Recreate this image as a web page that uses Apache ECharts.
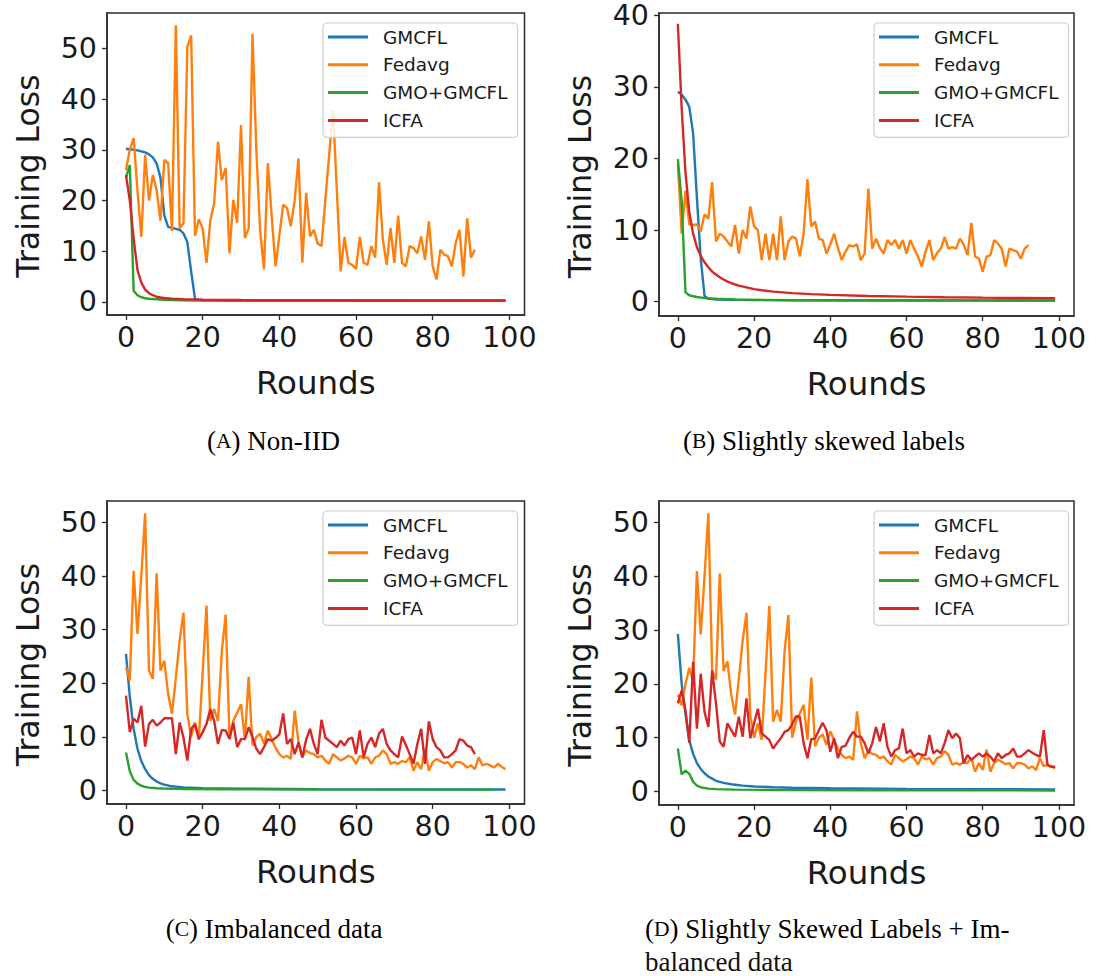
<!DOCTYPE html>
<html><head><meta charset="utf-8">
<script src="https://cdn.jsdelivr.net/npm/echarts@6/dist/echarts.min.js"></script>
<style>html,body{margin:0;padding:0;background:#fff}#c{width:1098px;height:976px}</style>
</head><body><div id="c"></div>
<script>
// ---------- labels ----------
const seriesNames = ['GMCFL', 'Fedavg', 'GMO+GMCFL', 'ICFA'];
const seriesColors = ['#1f77b4', '#ff7f0e', '#2ca02c', '#d62728'];
const xTickValues = [0, 20, 40, 60, 80, 100];
const yTicksA = [0, 10, 20, 30, 40, 50];
const yTicksB = [0, 10, 20, 30, 40];
const yTicksC = [0, 10, 20, 30, 40, 50];
const yTicksD = [0, 10, 20, 30, 40, 50];
const xTitle = 'Rounds';
const yTitle = 'Training Loss';
const captionA = ['A', 'Non-IID'];
const captionB = ['B', 'Slightly skewed labels'];
const captionC = ['C', 'Imbalanced data'];
const captionD = ['D', 'Slightly Skewed Labels + Im-', 'balanced data'];

// ---------- (A) Non-IID ----------
const A_GMCFL_x = [0,1,2,3,4,5,6,7,8,9,10,11,12,13,14,15,16,17,18,19,20,30,50,70,99];
const A_GMCFL_y = [30.2,30.1,30.0,29.9,29.7,29.5,29.1,28.5,27.3,24.5,17,14.8,14.6,14.4,14.2,13.5,11.8,6.0,0.6,0.4,0.35,0.3,0.28,0.27,0.25];
const A_Fedavg = [26,30,32.3,22,12.8,29,20,25,22,16,
  28,27.4,14,54.6,14.5,15.5,50.3,52.6,13,16.3,
  14.5,7.7,16,19.5,31.6,24,26.4,9.6,20.1,15.6,
  34.9,12.6,14.5,52.9,30,14,6.4,27.4,17,7,
  13,19.2,18.5,14.9,20,28.3,7.7,21.5,12.9,14.2,
  11.5,11,20.1,29,37.9,22,6,12.8,7.7,7.3,
  6.5,12.8,7.7,7.3,11,8.7,23.6,12.3,7.3,14.6,
  7.7,17,7.7,7,11,10.6,9.6,12.9,8.3,15.9,
  7,4.4,10.3,9.3,9,7,11.6,14.2,5,16.5,
  8.7,10.3];
const A_GMO_x = [0,1,2,3,4,5,6,8,10,15,20,40,70,99];
const A_GMO_y = [24.5,27,2.2,1.3,0.9,0.7,0.6,0.5,0.4,0.3,0.25,0.2,0.2,0.2];
const A_ICFA_x = [0,1,2,3,4,5,6,7,8,9,10,12,15,20,30,50,75,99];
const A_ICFA_y = [25,20,12.5,6.3,3.8,2.4,1.7,1.3,1.0,0.85,0.75,0.6,0.5,0.4,0.35,0.3,0.27,0.25];

// ---------- (B) Slightly skewed labels ----------
const B_GMCFL_x = [0,1,2,3,4,5,6,7,8,9,10,15,20,40,70,99];
const B_GMCFL_y = [29.3,28.9,28.2,27.2,23.5,14.5,6,0.8,0.4,0.35,0.3,0.25,0.22,0.2,0.18,0.15];
const B_Fedavg = [19.3,9.5,15.5,10.8,10.7,10.8,9.8,12.2,11.6,16.7,
  8.4,9.5,9.1,8.4,7.7,10.7,6.7,10.0,8.8,13.3,
  10.5,10.0,5.8,9.5,5.8,9.5,5.8,11.9,5.8,8.4,
  9.1,8.8,6.3,9.5,17.1,10.5,11.2,8.8,8.6,6.7,
  8.0,9.5,7.5,5.8,7.0,7.9,7.7,8.0,5.8,6.7,
  15.8,7.4,8.8,7.5,6.7,8.6,7.9,8.6,7.4,8.6,
  6.7,8.6,7.4,6.3,4.9,7.0,8.6,5.8,6.8,7.4,
  9.0,7.4,7.6,7.4,8.8,8.0,6.5,11.0,6.3,6.0,
  4.2,6.3,6.5,8.6,8.1,7.4,4.9,7.4,7.2,7.0,
  6.0,7.4,7.9];
const B_GMO_x = [0,1,2,3,4,5,7,10,15,30,60,99];
const B_GMO_y = [19.9,14,1.3,0.9,0.75,0.65,0.5,0.4,0.3,0.2,0.17,0.15];
const B_ICFA_x = [0,1,2,3,4,5,6,7,8,9,10,11,12,13,14,15,16,18,20,22,25,30,35,40,50,60,70,80,90,99];
const B_ICFA_y = [38.8,27,18,12.5,9.5,7.6,6.4,5.5,4.8,4.2,3.8,3.4,3.1,2.8,2.6,2.4,2.25,2.0,1.75,1.6,1.4,1.2,1.05,0.95,0.8,0.7,0.62,0.56,0.51,0.47];

// ---------- (C) Imbalanced data ----------
const C_GMCFL_x = [0,1,2,3,4,5,6,7,8,9,10,12,15,20,30,50,75,99];
const C_GMCFL_y = [25.5,17.5,11.5,7.8,5.5,4.0,2.9,2.2,1.7,1.35,1.1,0.8,0.6,0.45,0.35,0.28,0.23,0.2];
const C_Fedavg = [23.0,20.5,41.0,29.2,40.0,51.7,22.4,20.8,40.5,22.4,
  24.2,18.0,14.3,21.0,28.0,33.2,14.3,10.0,12.7,9.6,
  22.0,34.5,13.0,15.2,13.0,26.0,32.8,10.0,13.0,14.5,
  16.1,9.6,21.2,8.4,10.0,10.6,8.7,11.2,9.6,8.0,
  6.8,6.2,6.5,5.9,14.9,9.0,6.2,7.5,7.0,6.8,
  6.2,6.5,5.6,5.0,6.8,6.2,5.6,6.0,6.5,6.2,
  5.0,6.5,6.0,6.2,5.0,6.2,6.5,7.5,6.8,5.0,
  5.3,5.0,5.5,5.3,6.2,3.7,5.3,4.0,7.8,3.7,
  5.3,5.9,5.5,5.1,5.3,4.3,5.3,5.3,5.0,4.3,
  4.7,4.0,6.2,4.7,5.0,4.7,4.3,5.0,4.4,4.0];
const C_GMO_x = [0,1,2,3,4,5,6,8,10,15,25,50,96];
const C_GMO_y = [7.1,3.6,2.0,1.3,0.9,0.7,0.55,0.45,0.38,0.3,0.25,0.2,0.18];
const C_ICFA = [17.7,10.9,13.4,12.7,15.8,8.2,12.4,13.2,12.1,12.7,
  13.5,13.5,13.5,6.8,12.7,9.9,5.6,11.5,12.4,9.6,
  10.9,12.4,15.2,13.0,8.7,11.3,11.2,9.6,12.7,8.1,
  9.6,9.6,11.8,10.0,7.8,6.8,8.1,9.6,9.3,9.8,
  10.5,14.4,8.7,9.6,6.8,9.0,6.2,9.5,11.5,8.7,
  6.8,13.2,9.9,9.3,8.7,8.1,9.3,8.4,9.6,9.9,
  6.8,11.2,6.2,8.7,9.9,8.1,10.6,11.5,8.7,7.5,
  6.8,6.2,10.1,8.5,6.8,5.0,8.7,11.5,5.0,12.9,
  9.6,8.1,7.5,6.2,6.2,6.8,7.5,9.6,9.3,8.4,
  8.1,6.8];

// ---------- (D) Slightly Skewed Labels + Imbalanced data ----------
const D_GMCFL_x = [0,1,2,3,4,5,6,7,8,9,10,12,14,17,20,25,30,40,60,80,99];
const D_GMCFL_y = [29.3,20,14.5,9.5,7.0,5.3,4.2,3.4,2.8,2.4,2.0,1.6,1.35,1.1,0.95,0.8,0.7,0.6,0.5,0.45,0.4];
const D_Fedavg = [18,16,20,23.0,20.5,41.0,29.2,40.0,51.7,22.4,
  20.8,40.5,22.4,24.2,18.0,14.3,21.0,28.0,33.2,14.3,
  10.0,12.7,9.6,22.0,34.5,13.0,15.2,13.0,26.0,32.8,
  10.0,13.0,14.5,16.1,9.6,21.2,8.4,10.0,10.6,8.7,
  11.2,9.6,8.0,6.8,6.2,6.5,5.9,14.9,9.0,6.2,
  7.5,7.0,6.8,6.2,6.5,5.6,5.0,6.8,6.2,5.6,
  6.0,6.5,6.2,5.0,6.5,6.0,6.2,5.0,6.2,6.5,
  7.5,6.8,5.0,5.3,5.0,5.5,5.3,6.2,3.7,5.3,
  4.0,7.8,3.7,5.3,5.9,5.5,5.1,5.3,4.3,5.3,
  5.3,5.0,4.3,4.7,4.0,6.2,4.7,5.0,4.7,4.3];
const D_GMO_x = [0,1,2,3,4,5,6,7,8,10,15,25,50,99];
const D_GMO_y = [8.0,3.2,3.9,3.3,1.8,1.1,0.8,0.65,0.55,0.45,0.35,0.3,0.25,0.2];
const D_ICFA = [16.4,18.8,15.1,9.1,24.1,11.7,21.9,14.8,12.0,22.5,
  16.4,9.3,8.3,12.7,11.4,10.2,13.9,10.2,17.3,9.9,
  12.7,15.4,10.8,10.2,9.6,8.0,9.0,9.9,11.1,11.4,
  12.5,14.0,13.9,9.0,6.2,9.7,9.9,11.4,12.8,11.4,
  7.4,9.9,6.2,8.3,8.5,10.0,11.1,10.2,10.2,9.0,
  7.1,9.0,12.0,9.3,12.7,8.3,6.5,7.7,8.0,11.7,
  7.1,7.7,6.5,7.1,6.8,6.8,10.5,7.1,7.7,7.1,
  9.0,11.4,9.9,10.8,9.9,5.2,6.8,5.9,6.5,7.1,
  6.5,7.1,6.5,5.6,7.1,6.2,6.8,7.1,8.0,6.5,
  6.5,7.1,7.7,7.2,6.8,6.5,11.4,4.9,4.6,4.6];

// ---------- helpers (build library options from the arrays) ----------
const pairs = (xs, ys) => xs.map((x, i) => [x, ys[i]]);
const indexed = ys => ys.map((y, i) => [i, y]);

const panels = [
  { grid: {left:107, top:13, width:417.5, height:302}, yMin:-2.6, yMax:57.0, yTicks:yTicksA,
    data: [pairs(A_GMCFL_x, A_GMCFL_y), indexed(A_Fedavg), pairs(A_GMO_x, A_GMO_y), pairs(A_ICFA_x, A_ICFA_y)],
    legend: {left:323, top:23} },
  { grid: {left:659, top:13, width:415, height:303}, yMin:-2.0, yMax:40.3, yTicks:yTicksB,
    data: [pairs(B_GMCFL_x, B_GMCFL_y), indexed(B_Fedavg), pairs(B_GMO_x, B_GMO_y), pairs(B_ICFA_x, B_ICFA_y)],
    legend: {left:874, top:23} },
  { grid: {left:107, top:501, width:417.5, height:303}, yMin:-2.5, yMax:54.0, yTicks:yTicksC,
    data: [pairs(C_GMCFL_x, C_GMCFL_y), indexed(C_Fedavg), pairs(C_GMO_x, C_GMO_y), indexed(C_ICFA)],
    legend: {left:323, top:511} },
  { grid: {left:659, top:501, width:415, height:304}, yMin:-2.5, yMax:54.0, yTicks:yTicksD,
    data: [pairs(D_GMCFL_x, D_GMCFL_y), indexed(D_Fedavg), pairs(D_GMO_x, D_GMO_y), indexed(D_ICFA)],
    legend: {left:874, top:511} }
];

const FONT = 'DejaVu Sans';
const INK = '#1a1a1a';
const SPINE = '#2b2b2b';

const option = {
  animation: false,
  backgroundColor: '#ffffff',
  grid: [], xAxis: [], yAxis: [], series: [], legend: [], graphic: []
};

panels.forEach((p, gi) => {
  option.grid.push(Object.assign({show:true, borderColor:SPINE, borderWidth:1.5, backgroundColor:'transparent', containLabel:false}, p.grid));
  option.xAxis.push({
    type:'value', gridIndex:gi, min:-4.95, max:103.95,
    name: xTitle, nameLocation:'middle', nameGap:51,
    nameTextStyle:{fontFamily:FONT, fontSize:32.5, color:INK},
    axisLine:{show:true, onZero:false, lineStyle:{color:SPINE, width:1.5}},
    axisTick:{show:true, inside:false, length:5, customValues:xTickValues, lineStyle:{color:SPINE, width:1.3}},
    axisLabel:{show:true, margin:8, customValues:xTickValues, fontFamily:FONT, fontSize:28.5, color:INK},
    splitLine:{show:false}
  });
  option.yAxis.push({
    type:'value', gridIndex:gi, min:p.yMin, max:p.yMax,
    name: yTitle, nameLocation:'middle', nameGap:63, nameRotate:90,
    nameTextStyle:{fontFamily:FONT, fontSize:31.5, color:INK, padding:[0, 24, 0, 0]},
    axisLine:{show:true, onZero:false, lineStyle:{color:SPINE, width:1.5}},
    axisTick:{show:true, inside:false, length:5, customValues:p.yTicks, lineStyle:{color:SPINE, width:1.3}},
    axisLabel:{show:true, margin:10, customValues:p.yTicks, fontFamily:FONT, fontSize:28.5, color:INK},
    splitLine:{show:false}
  });
  p.data.forEach((d, si) => {
    option.series.push({
      type:'line', name:seriesNames[si], xAxisIndex:gi, yAxisIndex:gi,
      data:d, showSymbol:false, symbol:'none', smooth:false,
      color:seriesColors[si],
      lineStyle:{color:seriesColors[si], width:2.4},
      z: 2 + si
    });
  });
  option.legend.push({
    left:p.legend.left, top:p.legend.top, orient:'vertical',
    data: seriesNames, icon:'rect', itemWidth:40, itemHeight:3, itemGap:7.8,
    padding:[4, 10, 7, 5],
    backgroundColor:'rgba(255,255,255,0.85)', borderColor:'#cfcfcf', borderWidth:1.2, borderRadius:4,
    textStyle:{fontFamily:FONT, fontSize:18.5, color:INK, lineHeight:20, padding:[0,0,0,10]},
    selectedMode:false
  });
});

// captions (serif, small-caps letter)
const capRich = {
  p:{fontFamily:'Liberation Serif', fontSize:27, color:'#111'},
  s:{fontFamily:'Liberation Serif', fontSize:21.5, color:'#111'}
};
function caption(c, x, y, align) {
  return { type:'text', x:x, y:y,
    style:{ text:'{p|(}{s|' + c[0] + '}{p|) ' + c[1] + '}', rich:capRich, align:align, verticalAlign:'middle' } };
}
option.graphic.push(caption(captionA, 273.5, 441, 'center'));
option.graphic.push(caption(captionB, 824, 441, 'center'));
option.graphic.push(caption(captionC, 274, 929, 'center'));
option.graphic.push(caption(captionD, 645, 929, 'left'));
option.graphic.push({ type:'text', x:645, y:962,
  style:{ text:captionD[2], fontFamily:'Liberation Serif', fontSize:27, fill:'#111', align:'left', verticalAlign:'middle' } });

const chart = echarts.init(document.getElementById('c'), null, {renderer:'svg', width:1098, height:976});
chart.setOption(option);
</script>
</body></html>
